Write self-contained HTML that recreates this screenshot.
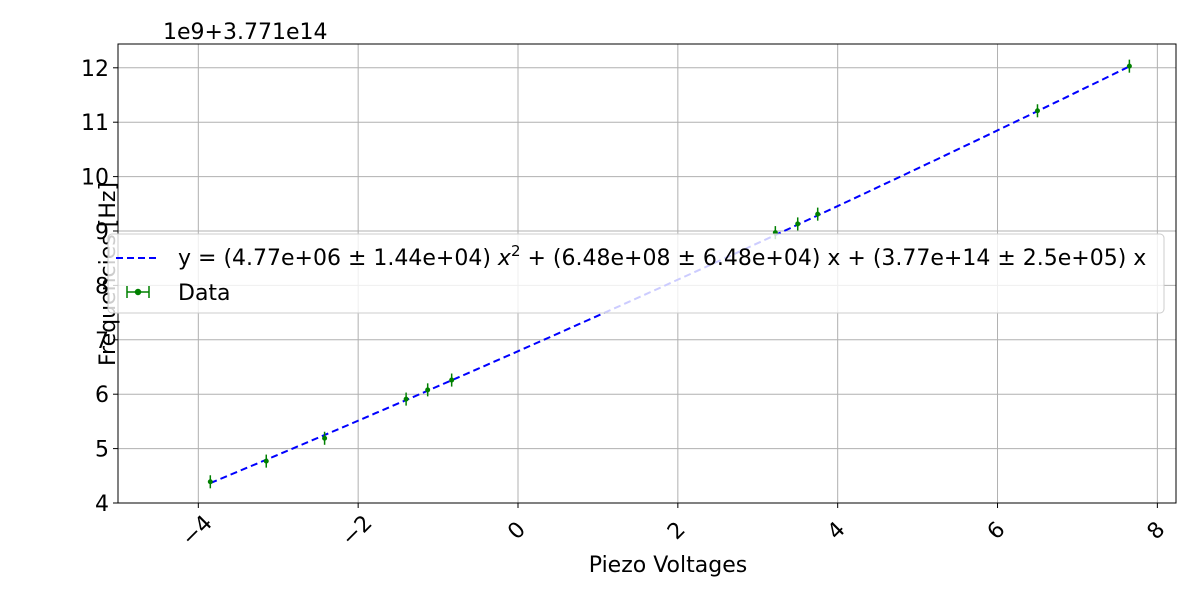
<!DOCTYPE html>
<html><head><meta charset="utf-8"><style>
body{margin:0;background:#fff;}
svg{font-family:"DejaVu Sans","Liberation Sans",sans-serif;}
</style></head><body>
<svg id="chart" width="1200" height="600" xmlns="http://www.w3.org/2000/svg">
<rect width="1200" height="600" fill="#fff"/>
<g id="grid"></g>
<g id="axes"></g>
<g id="fit"></g>
<g id="pts"></g>
<text x="163" y="39" font-size="22" fill="#000">1e9+3.771e14</text>
<text x="668" y="572" font-size="22" text-anchor="middle">Piezo Voltages</text>
<text transform="translate(115,274) rotate(-90)" font-size="22" text-anchor="middle">Frequencies [Hz]</text>
<g>
<rect x="108" y="234" width="1056" height="79" rx="4" fill="#fff" fill-opacity="0.8" stroke="#ccc"/>
<line x1="116" y1="258" x2="158" y2="258" stroke="#00f" stroke-width="2" stroke-dasharray="7,4"/>
<text x="178" y="265" font-size="22">y = (4.77e+06 ± 1.44e+04) <tspan font-style="italic">x</tspan><tspan dy="-9" font-size="15">2</tspan><tspan dy="9"> + (6.48e+08 ± 6.48e+04) x + (3.77e+14 ± 2.5e+05) x</tspan></text>
<g stroke="green" stroke-width="1.5">
<line x1="127" y1="292" x2="149" y2="292"/><line x1="127" y1="286" x2="127" y2="298"/><line x1="149" y1="286" x2="149" y2="298"/>
<circle cx="138" cy="292" r="2.5" fill="green"/></g>
<text x="178" y="300" font-size="22">Data</text>
</g>
</svg>
<script>
const xs=[-3.85,-3.15,-2.42,-1.4,-1.13,-0.83,3.22,3.5,3.75,6.5,7.65];
const ys=[4.39,4.77,5.19,5.91,6.08,6.26,8.97,9.13,9.31,11.21,12.03];
const yerr=[0.12,0.12,0.12,0.12,0.12,0.12,0.12,0.12,0.12,0.12,0.12];
const coef=[0.00477,0.648,6.79];
const xTicks=[-4,-2,0,2,4,6,8];
const yTicks=[4,5,6,7,8,9,10,11,12];
const L=118,R=1176,T=44,B=503;
const X=v=>518+v*79.92;
const Y=v=>503-(v-4)*54.4;
const NS="http://www.w3.org/2000/svg";
function mk(p,t,a){const e=document.createElementNS(NS,t);for(const k in a)e.setAttribute(k,a[k]);p.appendChild(e);return e;}
const grid=document.getElementById('grid'),axes=document.getElementById('axes');
xTicks.forEach(t=>{const x=X(t);
const g=mk(grid,'line',{x1:x,x2:x,y1:T,y2:B,stroke:'#b0b0b0','stroke-width':1});


mk(axes,'line',{x1:x,x2:x,y1:B,y2:B+5,stroke:'#000'});
const tx=mk(axes,'text',{x:0,y:8,'font-size':22,'text-anchor':'middle',transform:`translate(${x-2},${B+27}) rotate(-45)`});
tx.textContent=(t<0?'\u2212'+(-t):t);

});
yTicks.forEach(t=>{const y=Y(t);
const g=mk(grid,'line',{x1:L,x2:R,y1:y,y2:y,stroke:'#b0b0b0','stroke-width':1});


mk(axes,'line',{x1:L-5,x2:L,y1:y,y2:y,stroke:'#000'});
const tx=mk(axes,'text',{x:L-9,y:y+8,'font-size':22,'text-anchor':'end'});
tx.textContent=t;

});
mk(axes,'rect',{x:L,y:T,width:R-L,height:B-T,fill:'none',stroke:'#000','stroke-width':1});
let d='';const x0=xs[0],x1=xs[xs.length-1];
for(let i=0;i<=100;i++){const v=x0+(x1-x0)*i/100;const f=coef[0]*v*v+coef[1]*v+coef[2];d+=(i?'L':'M')+X(v).toFixed(1)+','+Y(f).toFixed(1);}
const fp=mk(document.getElementById('fit'),'path',{d:d,fill:'none',stroke:'#00f','stroke-width':2,'stroke-dasharray':'7,4'});


const pts=document.getElementById('pts');
xs.forEach((x,i)=>{const g=mk(pts,'g',{});


mk(g,'line',{x1:X(x),x2:X(x),y1:Y(ys[i]-yerr[i]),y2:Y(ys[i]+yerr[i]),stroke:'green','stroke-width':1.5});
mk(g,'circle',{cx:X(x),cy:Y(ys[i]),r:2.5,fill:'green'});});
</script>
</body></html>
